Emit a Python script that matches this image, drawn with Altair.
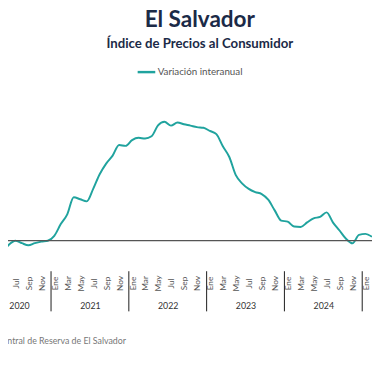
import altair as alt
import pandas as pd

FONT = "Lato"
TEAL = "#20A39E"
NAVY = "#1B2A47"

MONTHS = ["Ene", "Feb", "Mar", "Abr", "May", "Jun", "Jul", "Ago", "Sep", "Oct", "Nov", "Dic"]
YEARS = [2020, 2021, 2022, 2023, 2024]
START_YEAR = 2020
FIRST_INDEX = 3  # Abr 2020 (months counted from Ene 2020)
SERIES = "Variación interanual"
SOURCE = "Fuente: Banco Central de Reserva de El Salvador"

inflation = [
    -1.30, -0.77, -0.26, 0.00, -0.16, -0.30, -0.16, -0.06, 0.00,          # Abr-Dic 2020
    0.32, 1.09, 1.73, 2.85, 2.72, 2.58, 3.40, 4.36, 5.06, 5.58, 6.28, 6.22,  # 2021
    6.60, 6.75, 6.70, 6.85, 7.56, 7.80, 7.55, 7.75, 7.64, 7.55, 7.45, 7.41,  # 2022
    7.20, 6.99, 6.19, 5.49, 4.30, 3.75, 3.40, 3.19, 3.06, 2.69, 1.99, 1.32,  # 2023
    1.25, 0.93, 0.90, 1.20, 1.47, 1.56, 1.86, 1.19, 0.67, 0.13, -0.17, 0.38,  # 2024
    0.45, 0.26,                                                           # Ene-Feb 2025
]

df = pd.DataFrame({
    "idx": list(range(FIRST_INDEX, FIRST_INDEX + len(inflation))),
    "value": inflation,
    "serie": [SERIES] * len(inflation),
})
zero_df = pd.DataFrame({"v": [0]})
sep_df = pd.DataFrame({"b": [12 * (y - START_YEAR) + 11.5 for y in YEARS]})

month_ticks = list(range(4, 12 * (YEARS[-1] - START_YEAR + 1) + 1, 2))
year_mids = [12 * (y - START_YEAR) + 5.5 for y in YEARS]
month_expr = "[" + ",".join(f"'{m}'" for m in MONTHS) + "][datum.value % 12]"
year_expr = f"'' + ({START_YEAR} + floor(datum.value / 12))"

xscale = alt.Scale(domain=[4.86, 61.01], nice=False, zero=False)
yscale = alt.Scale(domain=[-2, 10], nice=False, zero=False)

line = alt.Chart(df).mark_line(strokeWidth=2, interpolate="monotone", clip=True).encode(
    x=alt.X("idx:Q", scale=xscale, axis=alt.Axis(
        values=month_ticks, labelExpr=month_expr, labelAngle=270, labelAlign="center",
        labelBaseline="middle", labelPadding=12, ticks=False, tickSize=0, domain=False,
        grid=False, title=None, labelFontSize=8.5, labelColor="#555", labelFont=FONT,
        labelOverlap=False, labelFlush=False)),
    y=alt.Y("value:Q", scale=yscale, axis=None),
    color=alt.Color("serie:N", scale=alt.Scale(range=[TEAL]), legend=alt.Legend(
        title=None, orient="none", legendX=131, legendY=-27, symbolType="stroke",
        symbolSize=324, symbolStrokeWidth=2.5, labelFont=FONT, labelFontSize=10,
        labelColor="#555", labelOffset=1, padding=0)),
)

zero = alt.Chart(zero_df).mark_rule(color="#555", strokeWidth=1.3).encode(
    y=alt.Y("v:Q", scale=yscale, axis=None)
)

sep = alt.Chart(sep_df).mark_rule(color="#1a1a1a", strokeWidth=1).encode(
    x=alt.X("b:Q", scale=xscale, axis=alt.Axis(
        values=year_mids, labelExpr=year_expr, orient="bottom", ticks=False, tickSize=0,
        domain=False, grid=False, labelPadding=31.5, labelBaseline="top", labelAngle=0,
        labelOffset=alt.condition("datum.value < 12", alt.value(7), alt.value(0)),
        labelFontSize=9, labelColor="#333", labelFont=FONT, labelFlush=False,
        labelOverlap=False, title=SOURCE, titleX=120, titleY=71, titleAlign="right",
        titleBaseline="middle", titleFontSize=9, titleFontWeight="normal",
        titleColor="#777", titleFont=FONT, titleAngle=0)),
    y=alt.value(187),
    y2=alt.value(228),
)

chart = alt.layer(line, zero, sep).resolve_axis(x="independent").properties(
    width=372, height=187,
    autosize=alt.AutoSizeParams(type="none"),
    padding={"left": 0, "top": 78, "right": 0, "bottom": 100},
    title=alt.TitleParams(
        text="El Salvador", subtitle="Índice de Precios al Consumidor",
        font=FONT, subtitleFont=FONT, fontSize=23, subtitleFontSize=13.5,
        fontWeight="bold", subtitleFontWeight="bold", color=NAVY, subtitleColor=NAVY,
        anchor="middle", frame="group", dx=10, offset=12, subtitlePadding=5,
    ),
).configure_view(stroke=None)

chart.save("out.html", embed_options={"renderer": "svg", "actions": False})
